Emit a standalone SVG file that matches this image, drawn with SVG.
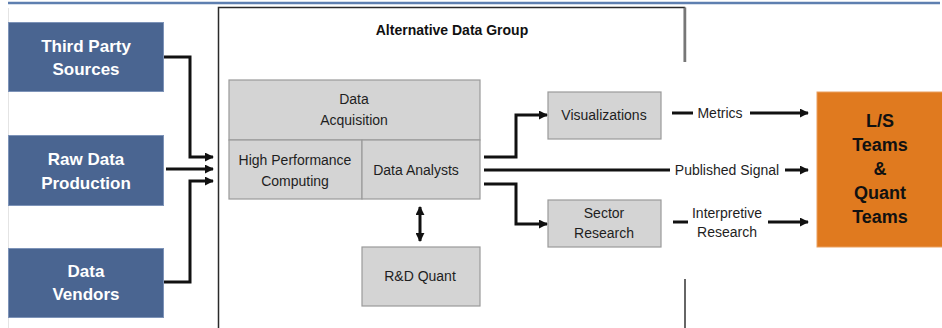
<svg xmlns="http://www.w3.org/2000/svg" width="942" height="328" viewBox="0 0 942 328">
  <style>
    .src { fill: #4a6591; stroke: #7d93b8; stroke-width: 1; }
    .srcText { font-family: "Liberation Sans", Arial, sans-serif; font-size: 17px; font-weight: bold; fill: #ffffff; text-anchor: middle; }
    .box { fill: #d4d4d4; stroke: #9a9a9a; stroke-width: 1.2; }
    .boxText { font-family: "Liberation Sans", Arial, sans-serif; font-size: 14px; fill: #1e1e1e; text-anchor: middle; }
    .lbl { font-family: "Liberation Sans", Arial, sans-serif; font-size: 14px; fill: #1e1e1e; text-anchor: middle; }
    .title { font-family: "Liberation Sans", Arial, sans-serif; font-size: 14px; font-weight: bold; fill: #111; text-anchor: middle; }
    .out { fill: #e07a1f; stroke: #eaa060; stroke-width: 1; }
    .outText { font-family: "Liberation Sans", Arial, sans-serif; font-size: 18px; font-weight: bold; fill: #111; text-anchor: middle; }
    .wire { fill: none; stroke: #111; stroke-width: 3; }
    .arr { fill: none; stroke: #111; stroke-width: 3; marker-end: url(#head); }
  </style>
  <defs>
    <marker id="head" viewBox="0 0 10 10" refX="9" refY="5" markerWidth="3" markerHeight="3" markerUnits="strokeWidth" orient="auto">
      <path d="M0,0 L10,5 L0,10 z" fill="#111"/>
    </marker>
    <marker id="tail" viewBox="0 0 10 10" refX="1" refY="5" markerWidth="3" markerHeight="3" markerUnits="strokeWidth" orient="auto">
      <path d="M10,0 L0,5 L10,10 z" fill="#111"/>
    </marker>
  </defs>

  <rect width="942" height="328" fill="#ffffff"/>
  <!-- header rule -->
  <line x1="8" y1="3" x2="940" y2="3" stroke="#5e7fb0" stroke-width="2.5"/>
  <line x1="8.5" y1="8" x2="8.5" y2="328" stroke="#e4e4e4" stroke-width="1"/>

  <!-- group frame -->
  <g id="alt-data-group">
    <path d="M218.5,328 L218.5,7.5 L684.5,7.5 L684.5,62" fill="none" stroke="#2a2a2a" stroke-width="1.5"/>
    <line x1="685" y1="7.5" x2="685" y2="62" stroke="#777" stroke-width="2.5"/>
    <line x1="685" y1="279" x2="685" y2="328" stroke="#666" stroke-width="2"/>
    <text class="title" x="452" y="35">Alternative Data Group</text>
  </g>

  <!-- sources -->
  <g id="third-party">
    <rect class="src" x="8.5" y="22.5" width="155" height="69"/>
    <text class="srcText" x="86" y="52">Third Party</text>
    <text class="srcText" x="86" y="75">Sources</text>
  </g>
  <g id="raw-data">
    <rect class="src" x="8.5" y="135.5" width="155" height="70"/>
    <text class="srcText" x="86" y="165">Raw Data</text>
    <text class="srcText" x="86" y="189">Production</text>
  </g>
  <g id="vendors">
    <rect class="src" x="8.5" y="248.5" width="155" height="69"/>
    <text class="srcText" x="86" y="277">Data</text>
    <text class="srcText" x="86" y="300">Vendors</text>
  </g>

  <!-- inner blocks -->
  <g id="acquisition">
    <rect class="box" x="229" y="80" width="251" height="60"/>
    <text class="boxText" x="354" y="104">Data</text>
    <text class="boxText" x="354" y="125">Acquisition</text>
  </g>
  <g id="hpc">
    <rect class="box" x="229" y="140" width="133" height="59"/>
    <text class="boxText" x="295" y="165">High Performance</text>
    <text class="boxText" x="295" y="186">Computing</text>
  </g>
  <g id="analysts">
    <rect class="box" x="362" y="140" width="118" height="59"/>
    <text class="boxText" x="416" y="175">Data Analysts</text>
  </g>
  <g id="rnd-quant">
    <rect class="box" x="362" y="247" width="118" height="59"/>
    <text class="boxText" x="420" y="281">R&amp;D Quant</text>
  </g>
  <g id="visualizations">
    <rect class="box" x="548" y="92" width="113" height="47"/>
    <text class="boxText" x="604" y="120">Visualizations</text>
  </g>
  <g id="sector-research">
    <rect class="box" x="548" y="200" width="113" height="47"/>
    <text class="boxText" x="604" y="218">Sector</text>
    <text class="boxText" x="604" y="238">Research</text>
  </g>

  <!-- consumers -->
  <g id="ls-quant-teams">
    <rect class="out" x="817" y="92" width="126" height="155"/>
    <text class="outText" x="880" y="127">L/S</text>
    <text class="outText" x="880" y="151">Teams</text>
    <text class="outText" x="880" y="175">&amp;</text>
    <text class="outText" x="880" y="199">Quant</text>
    <text class="outText" x="880" y="223">Teams</text>
  </g>

  <!-- connectors -->
  <g id="connectors">
    <path class="arr" d="M164,57 L190,57 L190,157 L213,157"/>
    <path class="arr" d="M166,169 L213,169"/>
    <path class="arr" d="M164,282 L190,282 L190,181 L213,181"/>

    <path class="arr" d="M484,157 L516,157 L516,115 L547,115"/>
    <path class="wire" d="M484,170 L670,170"/>
    <path class="arr" d="M484,184 L516,184 L516,224 L547,224"/>

    <path class="arr" d="M420,207 L420,241" marker-start="url(#tail)"/>

    <line class="wire" x1="672" y1="113" x2="693" y2="113"/>
    <text class="lbl" x="720" y="118">Metrics</text>
    <path class="arr" d="M750,113 L808,113"/>

    <text class="lbl" x="727" y="175">Published Signal</text>
    <path class="arr" d="M785,170 L808,170"/>

    <line class="wire" x1="673" y1="222" x2="688" y2="222"/>
    <text class="lbl" x="727" y="218">Interpretive</text>
    <text class="lbl" x="727" y="237">Research</text>
    <path class="arr" d="M768,222 L808,222"/>
  </g>
</svg>
